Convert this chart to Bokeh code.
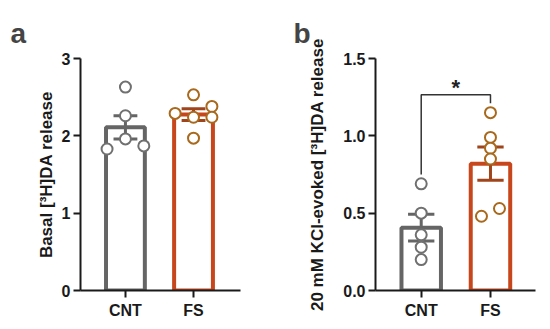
import numpy as np
from bokeh.plotting import figure
from bokeh.layouts import row
from bokeh.models import Range1d, FixedTicker, NumeralTickFormatter
from bokeh.core.properties import value
from bokeh.embed import file_html
from bokeh.resources import INLINE

# ---------------- data ----------------
categories = ["CNT", "FS"]

basal_cnt = [2.63, 2.26, 1.96, 1.83, 1.87]
basal_fs = [2.53, 2.29, 2.38, 2.24, 2.24, 1.97]

kcl_cnt = [0.69, 0.50, 0.36, 0.28, 0.20]
kcl_fs = [1.15, 0.99, 0.92, 0.85, 0.48, 0.53]

basal_ticks = [0, 1, 2, 3]
kcl_ticks = [0.0, 0.5, 1.0, 1.5]

# ---------------- styles / layout ----------------
FONT = "Liberation Sans"
COL_CNT_BAR = "#656565"
COL_CNT_PT = "#707070"
COL_FS_BAR = "#c8461c"
COL_FS_ERR = "#a0441c"
COL_FS_PT = "#a8691c"

jitter_a = {"CNT": [0.0, 0.0, 0.0, -0.27, 0.27],
            "FS": [0.0, -0.27, 0.27, 0.27, 0.0, 0.0]}
jitter_b = {"CNT": [0.0, 0.0, 0.0, 0.0, 0.0],
            "FS": [0.0, 0.0, 0.0, 0.0, -0.13, 0.13]}


def make_panel(letter, groups, ymax, ticks, ylabel, jitter, width, left,
               right, xr, label_standoff, cap_w, letter_off, fmt=None,
               sig=None):
    p = figure(width=width, height=321, output_backend="svg",
               toolbar_location=None, min_border_left=left,
               min_border_right=right, min_border_top=58,
               min_border_bottom=28, x_range=Range1d(*xr),
               y_range=Range1d(0, ymax))
    p.outline_line_color = None
    p.grid.visible = False
    p.background_fill_color = "white"

    xs = np.arange(1, len(categories) + 1)
    cols_bar = [COL_CNT_BAR, COL_FS_BAR]
    cols_err = [COL_CNT_BAR, COL_FS_ERR]
    cols_pt = [COL_CNT_PT, COL_FS_PT]
    for i, (cat, vals) in enumerate(zip(categories, groups)):
        vals = np.array(vals)
        mean = vals.mean()
        sem = vals.std(ddof=1) / np.sqrt(len(vals))
        x = xs[i]
        p.vbar(x=[x], top=[mean], bottom=0, width=0.57, fill_color="white",
               line_color=cols_bar[i], line_width=4)
        p.segment(x0=[x], y0=[mean - sem], x1=[x], y1=[mean + sem],
                  line_color=cols_err[i], line_width=3)
        p.segment(x0=[x - cap_w / 2] * 2, y0=[mean - sem, mean + sem],
                  x1=[x + cap_w / 2] * 2, y1=[mean - sem, mean + sem],
                  line_color=cols_err[i], line_width=3)
        px = x + np.array(jitter[cat])
        p.scatter(x=px, y=vals, size=11, fill_color="white",
                  line_color=cols_pt[i], line_width=2)

    if sig is not None:
        top, gap, star_off = sig
        m0 = max(groups[0]) + gap
        m1 = max(groups[1]) + gap
        p.line(x=[xs[0], xs[0], xs[1], xs[1]], y=[m0, top, top, m1],
               line_color="#333333", line_width=1.5)
        p.text(x=[(xs[0] + xs[1]) / 2], y=[top + star_off], text=["*"],
               text_align="center", text_baseline="middle",
               text_font=value(FONT), text_font_style="bold",
               text_font_size="22px", text_color="#222222")

    for ax in (p.xaxis[0], p.yaxis[0]):
        ax.axis_line_width = 2
        ax.axis_line_color = "#1a1a1a"
        ax.major_tick_line_width = 2
        ax.major_tick_line_color = "#1a1a1a"
        ax.major_tick_out = 7
        ax.major_tick_in = 0
        ax.minor_tick_line_color = None
        ax.major_label_text_font = FONT
        ax.major_label_text_font_style = "bold"
        ax.major_label_text_font_size = "16px"
        ax.major_label_text_color = "#1a1a1a"

    p.yaxis.ticker = FixedTicker(ticks=ticks)
    if fmt is not None:
        p.yaxis.formatter = NumeralTickFormatter(format=fmt)
    p.yaxis.major_label_standoff = 3
    p.yaxis.axis_label = ylabel
    p.yaxis.axis_label_text_font = FONT
    p.yaxis.axis_label_text_font_style = "bold"
    p.yaxis.axis_label_text_font_size = "17px"
    p.yaxis.axis_label_text_color = "#1a1a1a"
    p.yaxis.axis_label_standoff = label_standoff

    p.xaxis.ticker = FixedTicker(ticks=list(xs))
    p.xaxis.major_label_overrides = {int(x): c for x, c in zip(xs, categories)}
    p.xaxis.major_label_standoff = 4

    p.title.text = letter
    p.title.text_font = FONT
    p.title.text_font_style = "bold"
    p.title.text_font_size = "28px"
    p.title.align = "left"
    p.title.offset = letter_off
    p.title.standoff = 19
    return p


pa = make_panel("a", [basal_cnt, basal_fs], 3, basal_ticks,
                "Basal [³H]DA release", jitter_a, 273, 80, 33, (0.34, 2.69),
                3, 0.35, -70)
pb = make_panel("b", [kcl_cnt, kcl_fs], 1.5, kcl_ticks,
                "20 mM KCl-evoked [³H]DA release", jitter_b, 269, 102, 7,
                (0.34, 2.65), 13, 0.38, -82, fmt="0.0",
                sig=(1.265, 0.06, 0.045))

layout = row(pa, pb)
open("out.html", "w").write(file_html(layout, INLINE))
